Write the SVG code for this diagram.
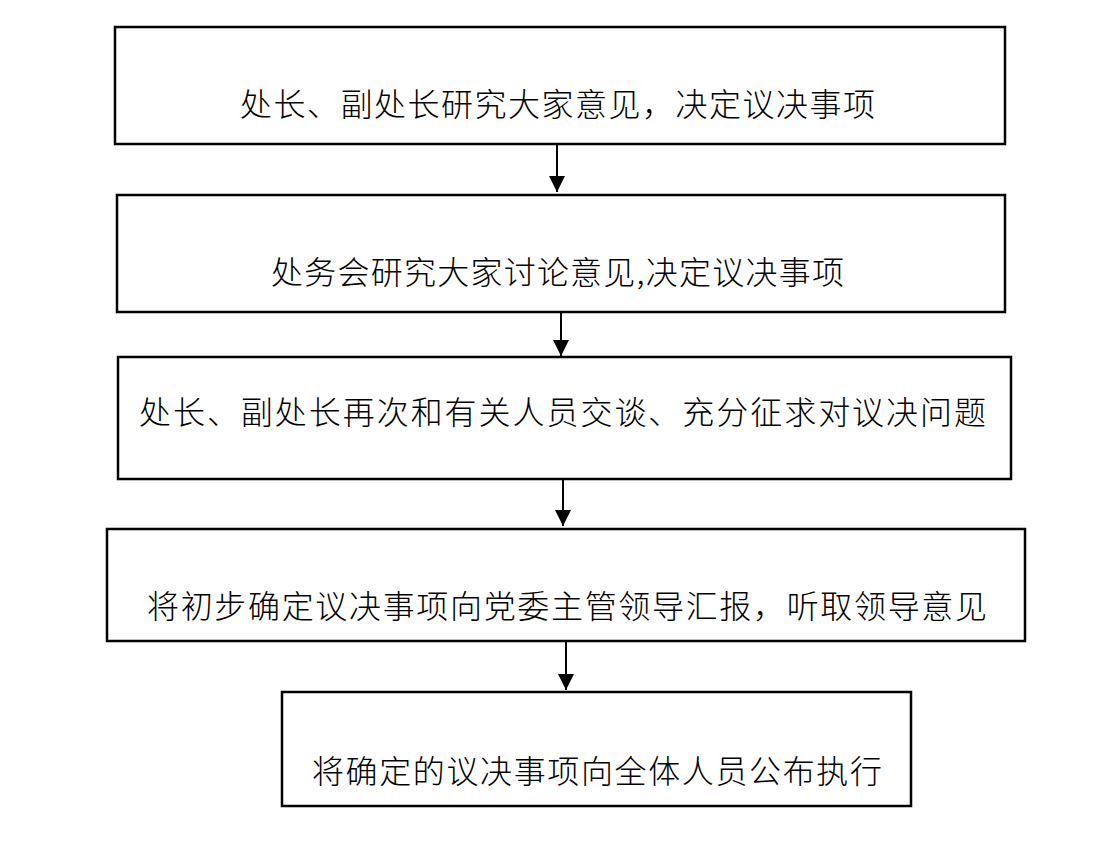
<svg xmlns="http://www.w3.org/2000/svg" width="1102" height="866" viewBox="0 0 1102 866">
<style>
.box{fill:#fff;stroke:#000;stroke-width:2.5}
.t{font-family:"Noto Sans CJK SC","Noto Sans CJK JP",sans-serif;font-size:32px;font-weight:300;fill:#000;dominant-baseline:central}
.c{stroke:#000;stroke-width:2;fill:none}
</style>
<defs>
<marker id="ah" viewBox="0 0 16 16" refX="16" refY="8" markerWidth="16" markerHeight="16" markerUnits="userSpaceOnUse" orient="auto">
<path d="M0,0 L16,8 L0,16 Z" fill="#000"/>
</marker>
</defs>
<rect width="1102" height="866" fill="#fff"/>
<g id="connectors">
<line class="c" x1="557" y1="144" x2="557" y2="192" marker-end="url(#ah)"/>
<line class="c" x1="561" y1="312" x2="561" y2="356" marker-end="url(#ah)"/>
<line class="c" x1="563" y1="479" x2="563" y2="526" marker-end="url(#ah)"/>
<line class="c" x1="566" y1="641" x2="566" y2="690" marker-end="url(#ah)"/>
</g>
<g id="n1">
<rect class="box" x="115" y="27" width="890" height="117"/>
<text class="t" x="240" y="102" textLength="635" lengthAdjust="spacing">处长、副处长研究大家意见，决定议决事项</text>
</g>
<g id="n2">
<rect class="box" x="117" y="195" width="888" height="117"/>
<text class="t" x="271" y="270" textLength="573" lengthAdjust="spacing">处务会研究大家讨论意见,决定议决事项</text>
</g>
<g id="n3">
<rect class="box" x="118" y="357" width="893" height="122"/>
<text class="t" x="139" y="410" textLength="847" lengthAdjust="spacing">处长、副处长再次和有关人员交谈、充分征求对议决问题</text>
</g>
<g id="n4">
<rect class="box" x="107" y="529" width="918" height="112"/>
<text class="t" x="147" y="604" textLength="840" lengthAdjust="spacing">将初步确定议决事项向党委主管领导汇报，听取领导意见</text>
</g>
<g id="n5">
<rect class="box" x="282" y="692" width="629" height="114"/>
<text class="t" x="312" y="769" textLength="570" lengthAdjust="spacing">将确定的议决事项向全体人员公布执行</text>
</g>
</svg>
